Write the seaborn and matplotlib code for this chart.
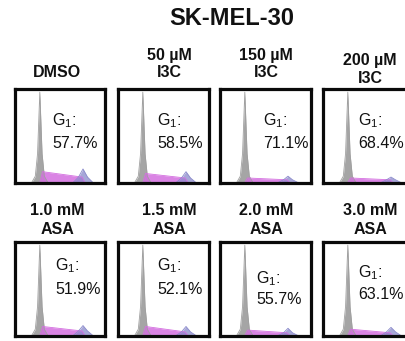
import matplotlib
matplotlib.use("Agg")
import matplotlib.pyplot as plt
import pandas as pd
import seaborn as sns

# ---- data -------------------------------------------------------------
TITLE = "SK-MEL-30"
TREATMENT_LINES = [
    ["DMSO"], ["50 µM", "I3C"], ["150 µM", "I3C"], ["200 µM", "I3C"],
    ["1.0 mM", "ASA"], ["1.5 mM", "ASA"], ["2.0 mM", "ASA"], ["3.0 mM", "ASA"],
]
G1_PERCENT = [57.7, 58.5, 71.1, 68.4, 51.9, 52.1, 55.7, 63.1]

# DNA-content histogram outlines (channel, relative count)
G1_CHANNEL = [18, 22, 24.5, 27, 29.5, 32, 36]
G1_COUNT = [0, 7, 32, 100, 32, 7, 0]
S_CHANNEL = [27, 30, 74, 77]
S_COUNT = [
    [0, 12, 6, 0], [0, 10, 5, 0], [0, 5, 3, 0], [0, 5, 3, 0],
    [0, 10, 5, 0], [0, 10, 4, 0], [0, 6, 3, 0], [0, 7, 3, 0],
]
G2_CHANNEL = [64, 70, 75, 80, 86]
G2_COUNT = [
    [0, 6, 15, 6, 0], [0, 5, 12, 5, 0], [0, 3, 7, 3, 0], [0, 3, 6, 3, 0],
    [0, 5, 11, 5, 0], [0, 4, 10, 4, 0], [0, 3, 8, 3, 0], [0, 4, 9, 4, 0],
]

PHASE_COLORS = {"G1": "#a0a0a0", "S": "#d46fe0", "G2": "#8a8acb"}
PHASE_ALPHA = {"G1": 0.95, "S": 0.85, "G2": 0.75}

# ---- layout (pixels) ----------------------------------------------------
W, H = 406, 341
BOX_LEFT = [14, 117, 219, 322]
BOX_TOP = [87, 240]
BOX_W, BOX_H = 93, 97
LABEL_X = [57, 169, 266, 370]

sns.set_theme(style="white")
plt.rcParams["font.family"] = ["Liberation Sans", "DejaVu Sans"]
plt.rcParams["mathtext.fontset"] = "custom"
plt.rcParams["mathtext.rm"] = "Liberation Sans"
plt.rcParams["mathtext.it"] = "Liberation Sans:italic"
plt.rcParams["mathtext.bf"] = "Liberation Sans:bold"

fig = plt.figure(figsize=(W / 100, H / 100), dpi=100)
fig.patch.set_facecolor("white")


def fx(px):
    return px / W


def fy(py):
    return 1 - py / H


fig.text(fx(232), fy(18.5), TITLE, ha="center", va="center",
         fontsize=17, fontweight="bold", color="#111111")

# treatment label baselines for line 1 / line 2 per panel
LABEL_BASE = [
    (None, 77), (60, 77), (60, 77), (65, 83),
    (215, 234), (215, 234), (215, 234), (215, 234),
]
# G1 text anchors: left x, baseline of "G1:", baseline of percentage
G1_TEXT = [
    (52, 125, 148), (157, 125, 148), (263, 125, 148), (358, 125, 148),
    (55, 270, 294), (157, 270, 294), (256, 283, 304), (358, 277, 299),
]

for i in range(8):
    r, c = divmod(i, 4)
    L, T = BOX_LEFT[c], BOX_TOP[r]
    ax = fig.add_axes([fx(L + 1.5), fy(T + 1.5 + BOX_H - 3), fx(BOX_W - 3), (BOX_H - 3) / H])

    df = pd.concat([
        pd.DataFrame({"channel": G1_CHANNEL, "count": G1_COUNT, "phase": "G1"}),
        pd.DataFrame({"channel": S_CHANNEL, "count": S_COUNT[i], "phase": "S"}),
        pd.DataFrame({"channel": G2_CHANNEL, "count": G2_COUNT[i], "phase": "G2"}),
    ], ignore_index=True)

    sns.lineplot(data=df, x="channel", y="count", hue="phase",
                 palette=PHASE_COLORS, estimator=None, sort=False,
                 linewidth=0.6, legend=False, ax=ax)
    for phase in ["G1", "S", "G2"]:
        sub = df[df["phase"] == phase]
        ax.fill_between(sub["channel"], sub["count"], 0,
                        color=PHASE_COLORS[phase], alpha=PHASE_ALPHA[phase], lw=0)

    ax.set_xlim(0, 100)
    ax.set_ylim(0, 104)
    ax.set(xlabel="", ylabel="", xticks=[], yticks=[])
    ax.set_facecolor("white")
    for sp in ax.spines.values():
        sp.set_visible(True)
        sp.set_color("#0a0a0a")
        sp.set_linewidth(2.3)

    # treatment label above box
    l1, l2 = LABEL_BASE[i]
    lines = TREATMENT_LINES[i]
    if len(lines) == 1:
        fig.text(fx(LABEL_X[c]), fy(l2), lines[0], ha="center", va="baseline",
                 fontsize=11.5, fontweight="bold", color="#111111")
    else:
        fig.text(fx(LABEL_X[c]), fy(l1), lines[0], ha="center", va="baseline",
                 fontsize=11.5, fontweight="bold", color="#111111")
        fig.text(fx(LABEL_X[c]), fy(l2), lines[1], ha="center", va="baseline",
                 fontsize=11.5, fontweight="bold", color="#111111")

    tx, gb, pb = G1_TEXT[i]
    fig.text(fx(tx), fy(gb), r"G$_{\mathregular{1}}$:", ha="left", va="baseline",
             fontsize=11.5, color="#111111")
    fig.text(fx(tx), fy(pb), f"{G1_PERCENT[i]:.1f}%", ha="left", va="baseline",
             fontsize=11.5, color="#111111")

fig.savefig("out.png", dpi=100, facecolor="white")
